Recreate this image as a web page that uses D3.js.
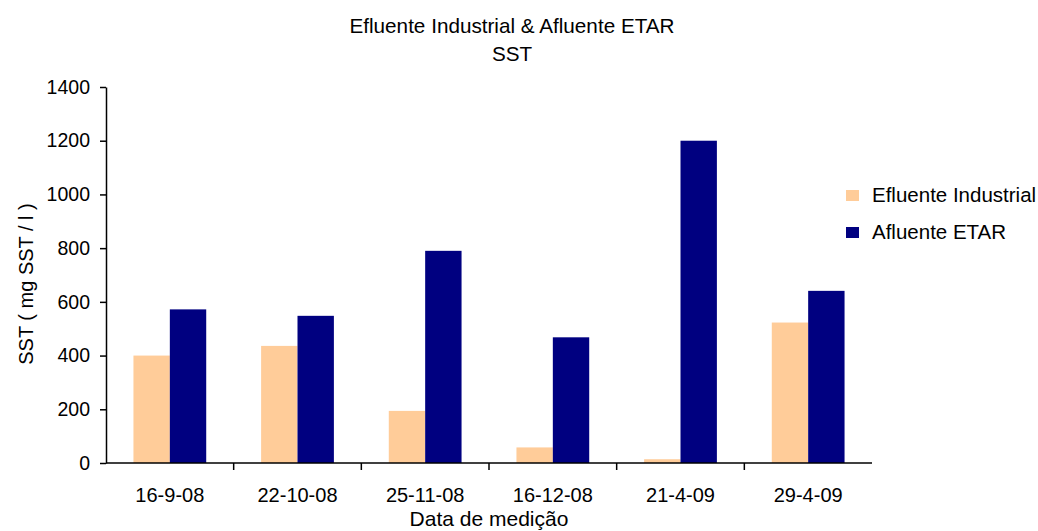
<!DOCTYPE html>
<html>
<head>
<meta charset="utf-8">
<script src="https://cdn.jsdelivr.net/npm/d3@7"></script>
<style>
  html, body { margin: 0; padding: 0; background: #fff; }
  svg { display: block; font-family: Arial, "Liberation Sans", sans-serif; }
</style>
</head>
<body>
<svg id="chart" width="1038" height="531"></svg>
<script>
// Sampling dates
const categories = ["16-9-08", "22-10-08", "25-11-08", "16-12-08", "21-4-09", "29-4-09"];
// SST (mg SST / l) for each stream
const efluenteIndustrial = [400, 436, 194, 58, 14, 523];
const afluenteETAR = [572, 548, 790, 468, 1200, 641];
const seriesNames = ["Efluente Industrial", "Afluente ETAR"];
const seriesColors = ["#FFCC99", "#000080"];
const yTicks = [0, 200, 400, 600, 800, 1000, 1200, 1400];

const svg = d3.select("#chart");
const plot = { left: 106, right: 872, top: 87, bottom: 463 };

const x = d3.scaleBand()
  .domain(categories)
  .range([plot.left, plot.right])
  .paddingInner(0.43)
  .paddingOuter(0.215);

const xSub = d3.scaleBand()
  .domain(seriesNames)
  .range([0, x.bandwidth()]);

const y = d3.scaleLinear()
  .domain([0, 1400])
  .range([plot.bottom, plot.top]);

const rows = categories.map((c, i) => ({
  cat: c,
  values: [efluenteIndustrial[i], afluenteETAR[i]]
}));

// Bars
const groups = svg.append("g").selectAll("g")
  .data(rows)
  .join("g")
  .attr("transform", d => `translate(${x(d.cat)},0)`);

groups.selectAll("rect")
  .data(d => d.values.map((v, k) => ({ name: seriesNames[k], v, k })))
  .join("rect")
  .attr("x", d => xSub(d.name))
  .attr("width", xSub.bandwidth())
  .attr("y", d => y(d.v))
  .attr("height", d => y(0) - y(d.v))
  .attr("fill", d => seriesColors[d.k]);

// Y axis
const yAxis = svg.append("g")
  .attr("transform", `translate(${plot.left},0)`)
  .call(d3.axisLeft(y).tickValues(yTicks).tickFormat(d3.format("d"))
    .tickSize(6).tickSizeOuter(0).tickPadding(10));
yAxis.select(".domain").attr("stroke", "#000").attr("stroke-width", 1.5);
yAxis.selectAll(".tick line").attr("stroke", "#000").attr("stroke-width", 1.5);
yAxis.selectAll(".tick text")
  .attr("fill", "#000")
  .style("font-size", "19.5px");

// X axis: ticks between categories
const step = x.step();
const boundaries = categories.slice(1).map(c => x(c) - x.paddingInner() * step / 2);
const xAxisG = svg.append("g");
xAxisG.append("line")
  .attr("x1", plot.left).attr("x2", plot.right)
  .attr("y1", y(0)).attr("y2", y(0))
  .attr("stroke", "#000").attr("stroke-width", 1.5);
xAxisG.selectAll("line.tick")
  .data(boundaries)
  .join("line")
  .attr("class", "tick")
  .attr("x1", d => d).attr("x2", d => d)
  .attr("y1", y(0)).attr("y2", y(0) + 7)
  .attr("stroke", "#000").attr("stroke-width", 1.5);
xAxisG.selectAll("text")
  .data(categories)
  .join("text")
  .attr("x", d => x(d) + x.bandwidth() / 2)
  .attr("y", 502)
  .attr("text-anchor", "middle")
  .attr("fill", "#000")
  .style("font-size", "20px")
  .text(d => d);

// Titles
const title = svg.append("text")
  .attr("x", 512)
  .attr("text-anchor", "middle")
  .attr("fill", "#000")
  .style("font-size", "20.7px");
title.append("tspan").attr("x", 512).attr("y", 33).text("Efluente Industrial & Afluente ETAR");
title.append("tspan").attr("x", 512).attr("y", 61).text("SST");

svg.append("text")
  .attr("x", 489).attr("y", 526)
  .attr("text-anchor", "middle")
  .attr("fill", "#000")
  .style("font-size", "21px")
  .text("Data de medição");

svg.append("text")
  .attr("transform", "translate(33,284) rotate(-90)")
  .attr("text-anchor", "middle")
  .attr("fill", "#000")
  .style("font-size", "20px")
  .text("SST ( mg SST / l )");

// Legend
const legend = svg.append("g").selectAll("g")
  .data(seriesNames)
  .join("g")
  .attr("transform", (d, i) => `translate(846,${190 + i * 37})`);
legend.append("rect")
  .attr("width", 13).attr("height", 11)
  .attr("fill", (d, i) => seriesColors[i]);
legend.append("text")
  .attr("x", 26).attr("y", 12)
  .attr("fill", "#000")
  .style("font-size", "20.5px")
  .text(d => d);
</script>
</body>
</html>
